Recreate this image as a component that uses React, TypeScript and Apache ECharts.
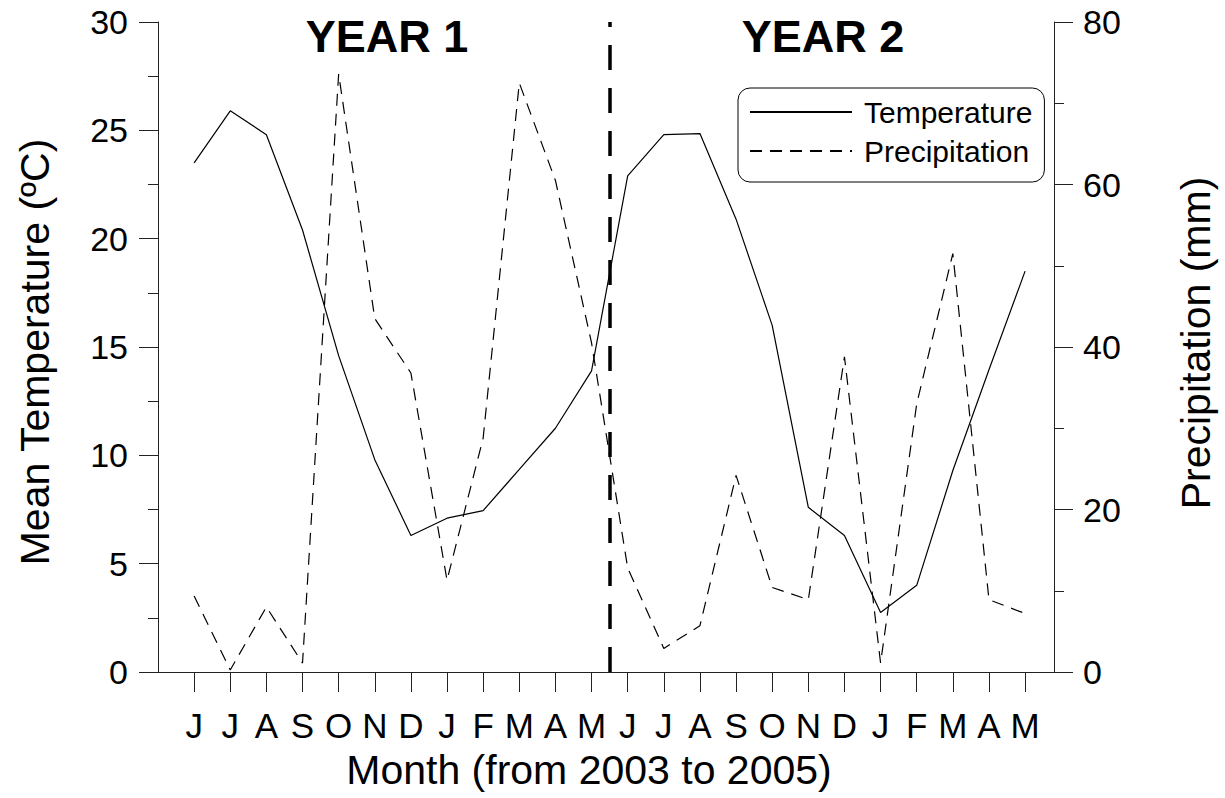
import React, { useEffect, useRef } from "react";
import * as echarts from "echarts";

const MONTHS = ["J", "J", "A", "S", "O", "N", "D", "J", "F", "M", "A", "M", "J", "J", "A", "S", "O", "N", "D", "J", "F", "M", "A", "M"];
const TEMPERATURE = [23.5, 25.9, 24.8, 20.4, 14.6, 9.8, 6.3, 7.1, 7.45, 9.35, 11.25, 13.9, 22.9, 24.8, 24.85, 20.9, 16.0, 7.6, 6.3, 2.75, 4.0, 9.3, 13.95, 18.5];
const PRECIPITATION = [9.35, 0.25, 8.0, 1.1, 73.6, 43.5, 36.8, 11.3, 28.8, 72.5, 60.5, 40.5, 12.8, 2.9, 5.7, 24.2, 10.4, 8.9, 38.8, 1.1, 33.0, 51.5, 8.9, 7.2];
const TEMP_AXIS = { min: 0, max: 30, interval: 5 };
const PRECIP_AXIS = { min: 0, max: 80, interval: 20 };
const X_EXTENT = { min: 0, max: 24.8 };
const DIVIDER_X = 12.5;
const YEAR_LABELS = ["YEAR 1", "YEAR 2"];

const FONT = '"Liberation Sans", Arial, Helvetica, sans-serif';

export default function App() {
  const ref = useRef<HTMLDivElement>(null);
  useEffect(() => {
    document.body.style.margin = "0";
    if (!ref.current) return;
    const chart = echarts.init(ref.current, null, { renderer: "svg" });
    const positions = MONTHS.map((_, i) => i + 1);
    const tempData = TEMPERATURE.map((v, i) => [positions[i], v]);
    const precData = PRECIPITATION.map((v, i) => [positions[i], v]);
    const axisLine = { show: true, lineStyle: { color: "#222", width: 1 } };
    chart.setOption({
      animation: false,
      backgroundColor: "#fff",
      textStyle: { fontFamily: FONT },
      grid: { left: 158, right: 171, top: 22, bottom: 126, containLabel: false },
      legend: {
        orient: "vertical",
        left: 738,
        top: 88,
        padding: [9, 12, 16, 11],
        itemWidth: 102,
        itemHeight: 20,
        itemGap: 9,
        borderColor: "#000",
        borderWidth: 1,
        borderRadius: 12,
        backgroundColor: "#fff",
        itemStyle: { opacity: 0 },
        textStyle: { fontSize: 30, color: "#000", fontFamily: FONT, lineHeight: 30, padding: [0, 0, 0, 7] },
        data: ["Temperature", "Precipitation"],
      },
      xAxis: {
        type: "value",
        min: X_EXTENT.min,
        max: X_EXTENT.max,
        interval: 1,
        axisLine,
        axisTick: { show: true, length: 20, customValues: positions, lineStyle: { color: "#222" } },
        axisLabel: {
          customValues: positions,
          formatter: (v: number) => MONTHS[Math.round(v) - 1] ?? "",
          fontSize: 35,
          color: "#000",
          margin: 36,
          fontFamily: FONT,
        },
        splitLine: { show: false },
      },
      yAxis: [
        {
          type: "value",
          min: TEMP_AXIS.min,
          max: TEMP_AXIS.max,
          interval: TEMP_AXIS.interval,
          position: "left",
          axisLine,
          axisTick: { show: true, length: 19, lineStyle: { color: "#222" } },
          minorTick: { show: true, splitNumber: 2, length: 10, lineStyle: { color: "#222" } },
          axisLabel: { fontSize: 34, color: "#000", margin: 30, fontFamily: FONT },
          splitLine: { show: false },
        },
        {
          type: "value",
          min: PRECIP_AXIS.min,
          max: PRECIP_AXIS.max,
          interval: PRECIP_AXIS.interval,
          position: "right",
          axisLine,
          axisTick: { show: true, length: 19, lineStyle: { color: "#222" } },
          minorTick: { show: true, splitNumber: 2, length: 10, lineStyle: { color: "#222" } },
          axisLabel: { fontSize: 34, color: "#000", margin: 29, fontFamily: FONT },
          splitLine: { show: false },
        },
      ],
      graphic: [
        {
          type: "text",
          x: 387,
          y: 36,
          style: { text: YEAR_LABELS[0], fontSize: 45, fontWeight: "bold", fontFamily: FONT, fill: "#000", align: "center", verticalAlign: "middle" },
        },
        {
          type: "text",
          x: 823,
          y: 36,
          style: { text: YEAR_LABELS[1], fontSize: 45, fontWeight: "bold", fontFamily: FONT, fill: "#000", align: "center", verticalAlign: "middle" },
        },
        {
          type: "text",
          x: 35,
          y: 352,
          rotation: Math.PI / 2,
          style: { text: "Mean Temperature (ºC)", fontSize: 41, fontFamily: FONT, fill: "#000", align: "center", verticalAlign: "middle" },
        },
        {
          type: "text",
          x: 1196,
          y: 343,
          rotation: Math.PI / 2,
          style: { text: "Precipitation (mm)", fontSize: 41, fontFamily: FONT, fill: "#000", align: "center", verticalAlign: "middle" },
        },
        {
          type: "text",
          x: 589,
          y: 770,
          style: { text: "Month (from 2003 to 2005)", fontSize: 41, fontFamily: FONT, fill: "#000", align: "center", verticalAlign: "middle" },
        },
      ],
      series: [
        {
          name: "Temperature",
          type: "line",
          yAxisIndex: 0,
          data: tempData,
          symbol: "none",
          lineStyle: { color: "#000", width: 1.2, type: "solid" },
          itemStyle: { color: "#000" },
          markLine: {
            silent: true,
            symbol: ["none", "none"],
            label: { show: false },
            lineStyle: { color: "#000", width: 3.5, type: [25, 18] },
            data: [{ xAxis: DIVIDER_X }],
          },
        },
        {
          name: "Precipitation",
          type: "line",
          yAxisIndex: 1,
          data: precData,
          symbol: "none",
          lineStyle: { color: "#000", width: 1.2, type: [12, 8] },
          itemStyle: { color: "#000" },
        },
      ],
    });
    return () => chart.dispose();
  }, []);
  return <div ref={ref} style={{ width: 1225, height: 798 }} />;
}
